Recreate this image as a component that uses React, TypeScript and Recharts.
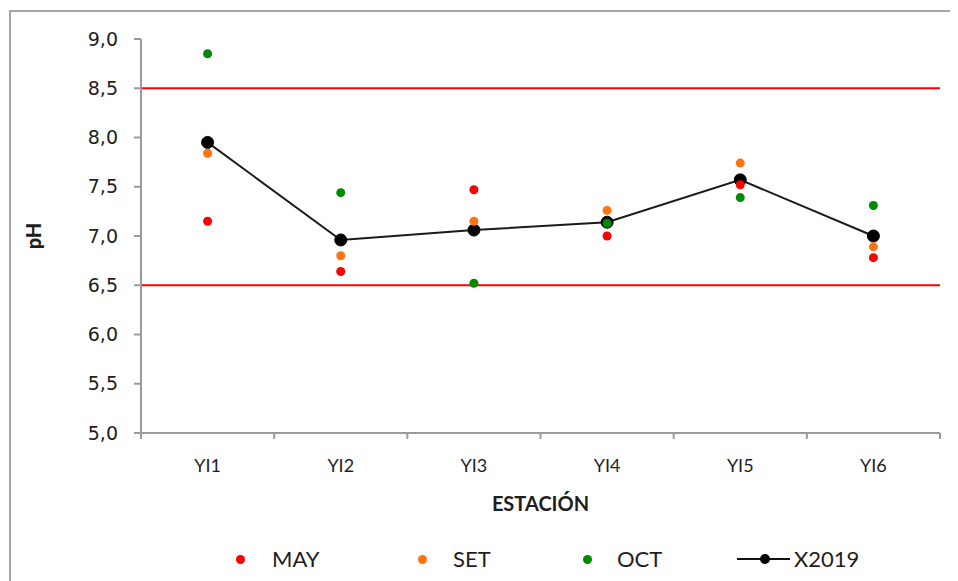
import { ComposedChart, Line, XAxis, YAxis, ReferenceLine } from "recharts";

const stations = ["YI1", "YI2", "YI3", "YI4", "YI5", "YI6"];
const mayValues = [7.15, 6.64, 7.47, 7.0, 7.52, 6.78];
const setValues = [7.84, 6.8, 7.15, 7.26, 7.74, 6.89];
const octValues = [8.85, 7.44, 6.52, 7.13, 7.39, 7.31];
const x2019Values = [7.95, 6.96, 7.06, 7.14, 7.57, 7.0];
const phTicks = [5, 5.5, 6, 6.5, 7, 7.5, 8, 8.5, 9];
const phLimits = [8.5, 6.5];

const data = stations.map((station, i) => ({
  station,
  MAY: mayValues[i],
  SET: setValues[i],
  OCT: octValues[i],
  X2019: x2019Values[i],
}));

const CHART_W = 940;
const CHART_H = 569;
const MARGIN = { top: 27, right: 11, bottom: 0, left: 0 };
const Y_AXIS_W = 130;
const PLOT_W = CHART_W - MARGIN.left - MARGIN.right - Y_AXIS_W;
const BAND = PLOT_W / stations.length;

const AXIS_COLOR = "#9a9a9a";
const TEXT_COLOR = "#1e1e1e";
const LABEL_FONT = "Lato, 'Liberation Sans', sans-serif";

const dotSeries = [
  { key: "MAY", color: "#ff0000" },
  { key: "SET", color: "#ff7410" },
  { key: "OCT", color: "#008a00" },
];

const StationTick = (props: any) => {
  const { x, y, payload, index } = props;
  return (
    <g>
      {index === 0 && (
        <line x1={x - BAND / 2} x2={x - BAND / 2} y1={y} y2={y + 6} stroke={AXIS_COLOR} strokeWidth={2} />
      )}
      <line x1={x + BAND / 2} x2={x + BAND / 2} y1={y} y2={y + 6} stroke={AXIS_COLOR} strokeWidth={2} />
      <text
        x={x}
        y={y + 32}
        textAnchor="middle"
        dominantBaseline="central"
        fontFamily={LABEL_FONT}
        fontSize={18}
        fill={TEXT_COLOR}
      >
        {payload.value}
      </text>
    </g>
  );
};

const LegendRow = () => {
  const text = {
    position: "absolute" as const,
    top: -13,
    fontFamily: LABEL_FONT,
    fontSize: 22,
    color: TEXT_COLOR,
    lineHeight: "26px",
  };
  const dot = (left: number, color: string) => (
    <span
      style={{
        position: "absolute",
        left: left - 4.5,
        top: -4.5,
        width: 9,
        height: 9,
        borderRadius: "50%",
        background: color,
      }}
    />
  );
  return (
    <div style={{ position: "absolute", left: 0, top: 547, width: CHART_W, height: 0 }}>
      {dot(229, dotSeries[0].color)}
      <span style={{ ...text, left: 261 }}>MAY</span>
      {dot(411, dotSeries[1].color)}
      <span style={{ ...text, left: 442 }}>SET</span>
      {dot(576, dotSeries[2].color)}
      <span style={{ ...text, left: 606 }}>OCT</span>
      <span style={{ position: "absolute", left: 726, top: -1, width: 53, height: 2, background: "#111" }} />
      <span
        style={{
          position: "absolute",
          left: 754 - 5,
          top: -5,
          width: 10,
          height: 10,
          borderRadius: "50%",
          background: "#000",
        }}
      />
      <span style={{ ...text, left: 783 }}>X2019</span>
    </div>
  );
};

export default function App() {
  return (
    <div
      style={{
        position: "relative",
        marginTop: 2,
        marginLeft: 1,
        width: 950,
        height: 575,
        borderLeft: "2px solid #a6a6a6",
        borderTop: "2px solid #a6a6a6",
        background: "#fff",
      }}
    >
      <ComposedChart width={CHART_W} height={CHART_H} data={data} margin={MARGIN}>
        <XAxis
          dataKey="station"
          scale="band"
          height={CHART_H - 421}
          tickLine={false}
          tickSize={0}
          tickMargin={0}
          interval={0}
          tick={<StationTick />}
          axisLine={{ stroke: AXIS_COLOR, strokeWidth: 2 }}
          label={{
            content: (p: any) => (
              <text
                x={p.viewBox.x + p.viewBox.width / 2}
                y={p.viewBox.y + 70}
                textAnchor="middle"
                dominantBaseline="central"
                fontFamily={LABEL_FONT}
                fontWeight={700}
                fontSize={20}
                fill={TEXT_COLOR}
              >
                ESTACIÓN
              </text>
            ),
          }}
        />
        <YAxis
          width={Y_AXIS_W}
          domain={[5, 9]}
          ticks={phTicks}
          interval={0}
          tickSize={7}
          tickMargin={16}
          tickFormatter={(v: number) => v.toFixed(1).replace(".", ",")}
          tick={{ fontFamily: "'DejaVu Sans', sans-serif", fontSize: 19, fill: TEXT_COLOR }}
          tickLine={{ stroke: AXIS_COLOR, strokeWidth: 2 }}
          axisLine={{ stroke: AXIS_COLOR, strokeWidth: 2 }}
          label={{
            content: (p: any) => {
              const cx = 22;
              const cy = p.viewBox.y + p.viewBox.height / 2;
              return (
                <text
                  x={cx}
                  y={cy}
                  transform={`rotate(-90 ${cx} ${cy})`}
                  textAnchor="middle"
                  dominantBaseline="central"
                  fontFamily={LABEL_FONT}
                  fontWeight={900}
                  fontSize={20}
                  fill={TEXT_COLOR}
                >
                  pH
                </text>
              );
            },
          }}
        />
        {phLimits.map((v) => (
          <ReferenceLine key={v} y={v} stroke="#ff0000" strokeWidth={2} />
        ))}
        <Line
          dataKey="X2019"
          stroke="#1a1a1a"
          strokeWidth={2}
          dot={{ r: 6, fill: "#000", stroke: "#000", strokeWidth: 1 }}
          isAnimationActive={false}
        />
        {dotSeries.map((s) => (
          <Line
            key={s.key}
            dataKey={s.key}
            stroke="none"
            dot={{ r: 4.5, fill: s.color, stroke: "none" }}
            activeDot={false}
            isAnimationActive={false}
          />
        ))}
      </ComposedChart>
      <LegendRow />
    </div>
  );
}
